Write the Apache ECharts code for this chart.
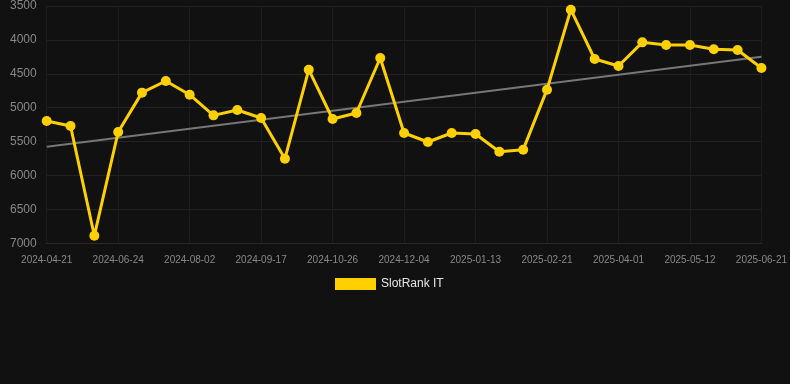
<!DOCTYPE html>
<html>
<head>
<meta charset="utf-8">
<script src="https://cdn.jsdelivr.net/npm/echarts@6/dist/echarts.min.js"></script>
<style>
html,body{margin:0;padding:0;background:#111111;}
#c{width:790px;height:384px;}
</style>
</head>
<body>
<div id="c"></div>
<script>
var categories = ["2024-04-21","2024-05-12","2024-06-03","2024-06-24","2024-07-07","2024-07-20","2024-08-02","2024-08-17","2024-09-01","2024-09-17","2024-09-30","2024-10-13","2024-10-26","2024-11-08","2024-11-21","2024-12-04","2024-12-17","2024-12-30","2025-01-13","2025-01-26","2025-02-08","2025-02-21","2025-03-06","2025-03-19","2025-04-01","2025-04-14","2025-04-28","2025-05-12","2025-05-25","2025-06-08","2025-06-21"];
var rankValues = [5196,5270,6888,5358,4778,4606,4808,5113,5034,5152,5752,4439,5167,5078,4267,5373,5506,5373,5388,5649,5619,4734,3554,4282,4385,4036,4075,4075,4139,4149,4415];
var trendStart = 5575;
var trendEnd = 4250;
var yTicks = [3500,4000,4500,5000,5500,6000,6500,7000];

var trendData = categories.map(function(c,i){
  if(i===0) return trendStart;
  if(i===categories.length-1) return trendEnd;
  return null;
});

var chart = echarts.init(document.getElementById('c'));
chart.setOption({
  backgroundColor:'#111111',
  animation:false,
  grid:{left:46.7,right:28.3,top:6,bottom:140.7,containLabel:false},
  legend:{
    data:[{name:'SlotRank IT',icon:'rect'}],
    top:273,left:330,
    itemWidth:41,itemHeight:12,
    textStyle:{color:'#e6e6e6',fontSize:12,fontFamily:'Arial, Liberation Sans, sans-serif'}
  },
  xAxis:{
    type:'category',
    data:categories,
    boundaryGap:false,
    axisLine:{show:true,lineStyle:{color:'#2a2a2a'}},
    axisTick:{show:false},
    axisLabel:{interval:2,color:'#888',fontSize:10,margin:12,fontFamily:'Arial, Liberation Sans, sans-serif'},
    splitLine:{show:true,interval:2,lineStyle:{color:'#1d1d1d'}}
  },
  yAxis:{
    type:'value',
    inverse:true,
    min:yTicks[0],max:yTicks[yTicks.length-1],interval:500,
    axisLine:{show:false},
    axisTick:{show:false},
    axisLabel:{color:'#888',fontSize:12,margin:10,fontFamily:'Arial, Liberation Sans, sans-serif',
      formatter:function(v){return String(v);}},
    splitLine:{show:true,lineStyle:{color:'#222'}}
  },
  series:[
    {
      name:'Trend',
      type:'line',
      data:trendData,
      connectNulls:true,
      symbol:'none',
      lineStyle:{color:'#777',width:2},
      z:1,
      silent:true
    },
    {
      name:'SlotRank IT',
      type:'line',
      data:rankValues,
      symbol:'circle',
      symbolSize:10,
      itemStyle:{color:'#FFD000'},
      lineStyle:{color:'#FFD000',width:3},
      z:2
    }
  ]
});
</script>
</body>
</html>
